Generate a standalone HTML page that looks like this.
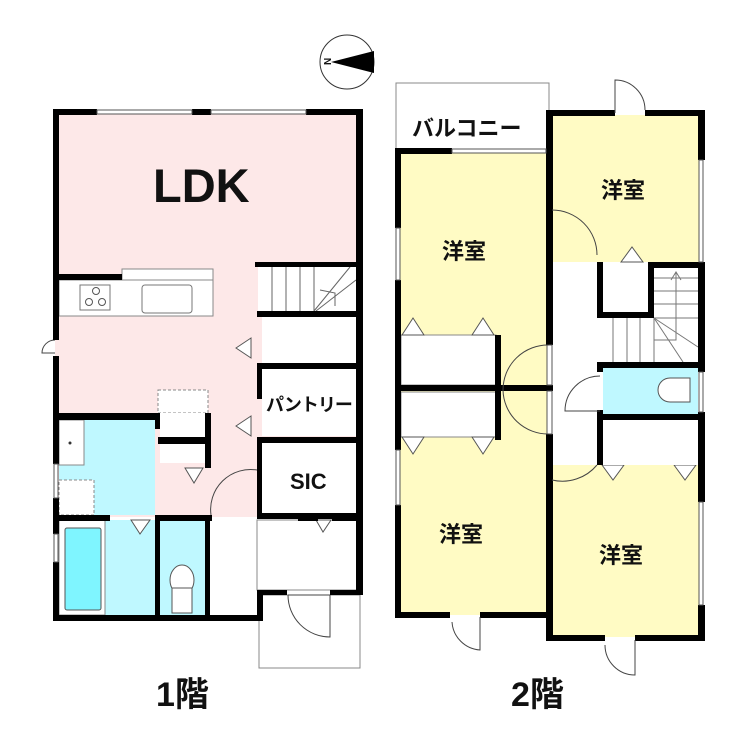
<!DOCTYPE html>
<html><head><meta charset="utf-8"><style>
html,body{margin:0;padding:0;background:#fff;width:740px;height:741px;overflow:hidden}
text{font-family:"Liberation Sans","Noto Sans CJK JP",sans-serif;font-weight:bold;fill:#111}
</style></head><body>
<svg width="740" height="741" viewBox="0 0 740 741" xmlns="http://www.w3.org/2000/svg">
<!-- compass -->
<circle cx="347" cy="62" r="27" fill="#fff" stroke="#333" stroke-width="1"/>
<polygon points="331,62 374,51 374,73" fill="#000"/>
<text x="324" y="66" font-size="10" transform="rotate(-90 327 62)">N</text>

<!-- ===== 1F ===== -->
<rect x="55" y="112" width="305" height="405" fill="#fde8e8"/>
<rect x="122" y="269" width="91" height="11" fill="#fff" stroke="#888"/>
<rect x="59" y="280" width="154" height="36" fill="#fff" stroke="#888"/>
<rect x="80" y="285" width="30" height="25" fill="#fff" stroke="#777"/>
<circle cx="96" cy="291" r="3.5" fill="none" stroke="#555"/><circle cx="89" cy="302" r="3.5" fill="none" stroke="#555"/><circle cx="102" cy="302" r="3.5" fill="none" stroke="#555"/>
<rect x="142" y="285" width="50" height="28" rx="3" fill="#fff" stroke="#777"/>
<rect x="258" y="267" width="98" height="44" fill="#fff"/>
<g stroke="#666" stroke-width="1" fill="none"><line x1="272" y1="267" x2="272" y2="311"/><line x1="286" y1="267" x2="286" y2="311"/><line x1="300" y1="267" x2="300" y2="311"/><line x1="314" y1="267" x2="314" y2="311"/><line x1="314" y1="311" x2="350" y2="267"/><line x1="316" y1="311" x2="356" y2="280"/><polyline points="320,290 335,293 335,306"/></g>
<rect x="262" y="317" width="94" height="47" fill="#fff"/>
<rect x="262" y="369" width="94" height="67" fill="#fff"/>
<rect x="262" y="442" width="94" height="71" fill="#fff"/>
<polygon points="236,348 251,338 251,358" fill="#fff" stroke="#555"/>
<polygon points="236,426 251,416 251,436" fill="#fff" stroke="#555"/>
<rect x="59" y="420" width="96" height="95" fill="#bff8ff"/>
<rect x="59" y="420" width="25" height="45" fill="#fff" stroke="#888"/>
<circle cx="70" cy="443" r="1.5" fill="#333"/>
<rect x="59" y="480" width="35" height="35" fill="#fff" stroke="#888" stroke-dasharray="3,2"/>
<rect x="158" y="390" width="50" height="23" fill="#fff" stroke="#888" stroke-dasharray="3,2"/>
<rect x="160" y="413" width="45" height="50" fill="#fff"/>
<polygon points="185,468 203,468 194,483" fill="#fff" stroke="#555"/>
<rect x="59" y="520" width="96" height="95" fill="#bff8ff"/>
<rect x="59" y="520" width="46" height="95" fill="#fff" stroke="#888"/>
<rect x="65" y="528" width="36" height="82" rx="2" fill="#7ff5ff" stroke="#555"/>
<rect x="160" y="520" width="45" height="95" fill="#bff8ff"/>
<ellipse cx="182" cy="580" rx="12" ry="15" fill="#fff" stroke="#555"/>
<rect x="172" y="588" width="20" height="25" fill="#fff" stroke="#555"/>
<polygon points="131,520 150,520 140,534" fill="#fff" stroke="#555"/>
<rect x="210" y="520" width="47" height="95" fill="#fff"/>
<rect x="257" y="520" width="100" height="70" fill="#fff" stroke="#888"/>
<polygon points="316,520 331,520 323,532" fill="#fff" stroke="#555"/>
<path d="M211,515 A40,40 0 0 1 257,470" fill="none" stroke="#444"/>
<rect x="259" y="595" width="101" height="73" fill="#fff" stroke="#888"/>
<path d="M288,595 L330,595 M288,595 A42,42 0 0 0 330,637 L330,595" fill="none" stroke="#444"/>
<path d="M55,340 A13,13 0 0 0 42,353 L55,353" fill="none" stroke="#444"/>
<g fill="#000">
<rect x="53" y="109" width="44" height="6"/><rect x="192" y="109" width="19" height="6"/><rect x="306" y="109" width="56" height="6"/>
<rect x="53" y="109" width="6" height="231"/><rect x="53" y="356" width="6" height="108"/><rect x="53" y="498" width="6" height="36"/><rect x="53" y="562" width="6" height="59"/>
<rect x="356" y="109" width="7" height="486"/>
<rect x="53" y="274" width="69" height="6"/>
<rect x="255" y="262" width="107" height="5"/>
<rect x="257" y="311" width="105" height="6"/>
<rect x="257" y="363" width="105" height="6"/>
<rect x="257" y="437" width="105" height="6"/>
<rect x="257" y="513" width="105" height="6"/>
<rect x="257" y="369" width="5" height="30"/><rect x="257" y="442" width="5" height="77"/>
<rect x="53" y="413" width="105" height="7"/>
<rect x="155" y="413" width="5" height="16"/>
<rect x="205" y="413" width="6" height="55"/>
<rect x="158" y="437" width="53" height="7"/>
<rect x="53" y="515" width="57" height="6"/><rect x="155" y="515" width="57" height="6"/><rect x="298" y="515" width="20" height="6"/><rect x="332" y="515" width="30" height="6"/>
<rect x="155" y="515" width="5" height="106"/>
<rect x="205" y="515" width="5" height="106"/>
<rect x="53" y="615" width="209" height="6"/>
<rect x="257" y="590" width="6" height="31"/>
<rect x="257" y="590" width="30" height="5"/><rect x="330" y="590" width="32" height="5"/>
</g>
<g fill="#fff" stroke="#555" stroke-width="1">
<rect x="97" y="110" width="95" height="4"/><rect x="211" y="110" width="95" height="4"/>
<rect x="54" y="464" width="4" height="34"/><rect x="54" y="534" width="4" height="28"/>
</g>

<!-- ===== 2F ===== -->
<rect x="396" y="83" width="153" height="72" fill="#fff" stroke="#888"/>
<rect x="400" y="153" width="147" height="462" fill="#fffbc4"/>
<rect x="552" y="115" width="148" height="147" fill="#fffbc4"/>
<rect x="552" y="465" width="148" height="172" fill="#fffbc4"/>
<rect x="552" y="262" width="46" height="203" fill="#fff"/>
<rect x="401" y="335" width="95" height="50" fill="#fff" stroke="#888"/>
<rect x="401" y="392" width="95" height="45" fill="#fff" stroke="#888"/>
<g fill="#fff" stroke="#555">
<polygon points="402,335 413,318 424,335"/><polygon points="472,335 483,318 494,335"/>
<polygon points="402,437 413,454 424,437"/><polygon points="472,437 483,454 494,437"/>
<polygon points="621,262 632,247 643,262"/>
<polygon points="602,465 613,480 624,465"/><polygon points="674,465 685,480 696,465"/>
</g>
<rect x="654" y="267" width="44" height="95" fill="#fff"/>
<rect x="600" y="318" width="98" height="44" fill="#fff"/>
<g stroke="#777" stroke-width="1" fill="none">
<line x1="654" y1="278" x2="698" y2="278"/><line x1="654" y1="291" x2="698" y2="291"/><line x1="654" y1="304" x2="698" y2="304"/><line x1="654" y1="318" x2="698" y2="318"/>
<line x1="613" y1="318" x2="613" y2="362"/><line x1="627" y1="318" x2="627" y2="362"/><line x1="640" y1="318" x2="640" y2="362"/><line x1="654" y1="318" x2="654" y2="362"/>
<line x1="654" y1="318" x2="698" y2="347"/><line x1="654" y1="318" x2="683" y2="362"/>
<polyline points="654,340 676,340 676,272"/><polyline points="671,280 676,272 681,280"/>
</g>
<rect x="603" y="368" width="95" height="46" fill="#bff8ff"/>
<path d="M690,378 L670,378 A12,12 0 0 0 670,402 L690,402 Z" fill="#fff" stroke="#555"/>
<rect x="603" y="420" width="95" height="45" fill="#fff"/>
<g fill="#000">
<rect x="395" y="148" width="57" height="6"/>
<rect x="395" y="148" width="6" height="80"/><rect x="395" y="280" width="6" height="170"/><rect x="395" y="505" width="6" height="112"/>
<rect x="395" y="612" width="55" height="6"/><rect x="480" y="612" width="73" height="6"/>
<rect x="546" y="110" width="7" height="235"/><rect x="546" y="434" width="7" height="207"/>
<rect x="546" y="110" width="69" height="6"/><rect x="645" y="110" width="60" height="6"/>
<rect x="698" y="110" width="7" height="50"/><rect x="698" y="262" width="7" height="110"/><rect x="698" y="412" width="7" height="90"/><rect x="698" y="605" width="7" height="36"/>
<rect x="546" y="635" width="59" height="6"/><rect x="635" y="635" width="70" height="6"/>
<rect x="495" y="335" width="6" height="105"/>
<rect x="401" y="385" width="152" height="6"/>
<rect x="597" y="262" width="6" height="56"/><rect x="648" y="262" width="57" height="6"/><rect x="648" y="262" width="6" height="56"/><rect x="597" y="312" width="57" height="6"/>
<rect x="597" y="362" width="108" height="6"/><rect x="597" y="414" width="108" height="6"/>
<rect x="597" y="362" width="6" height="10"/><rect x="597" y="410" width="6" height="55"/>
</g>
<g fill="#fff" stroke="#555">
<rect x="547" y="345" width="5" height="40"/><rect x="547" y="391" width="5" height="43"/>
<rect x="452" y="149" width="94" height="4"/>
<rect x="396" y="228" width="4" height="52"/><rect x="396" y="450" width="4" height="55"/>
<rect x="699" y="160" width="4" height="102"/><rect x="699" y="372" width="4" height="40"/><rect x="699" y="502" width="4" height="103"/>
</g>
<g fill="none" stroke="#444">
<path d="M552,210 A45,45 0 0 1 597,255"/>
<path d="M549,345 A45,45 0 0 0 503,390"/><path d="M549,434 A45,45 0 0 1 503,390"/>
<path d="M600,376 A35,35 0 0 0 565,411 L600,411"/>
<path d="M552,480 A45,45 0 0 0 597,465"/>
<path d="M615,113 L615,80 A30,30 0 0 1 645,110"/>
<path d="M480,617 L480,650 A30,30 0 0 1 452,622" />
<path d="M635,640 L635,675 A30,30 0 0 1 605,645"/>
</g>

<text x="153" y="202" font-size="47">LDK</text>
<text x="266" y="411" font-size="18" letter-spacing="-1">パントリー</text>
<text x="290" y="489" font-size="22">SIC</text>
<text x="412" y="136" font-size="22">バルコニー</text>
<text x="601" y="198" font-size="22">洋室</text>
<text x="442" y="259" font-size="22">洋室</text>
<text x="439" y="542" font-size="22">洋室</text>
<text x="599" y="563" font-size="22">洋室</text>
<text x="156" y="706" font-size="34">1階</text>
<text x="511" y="706" font-size="34">2階</text>
</svg>
</body></html>
